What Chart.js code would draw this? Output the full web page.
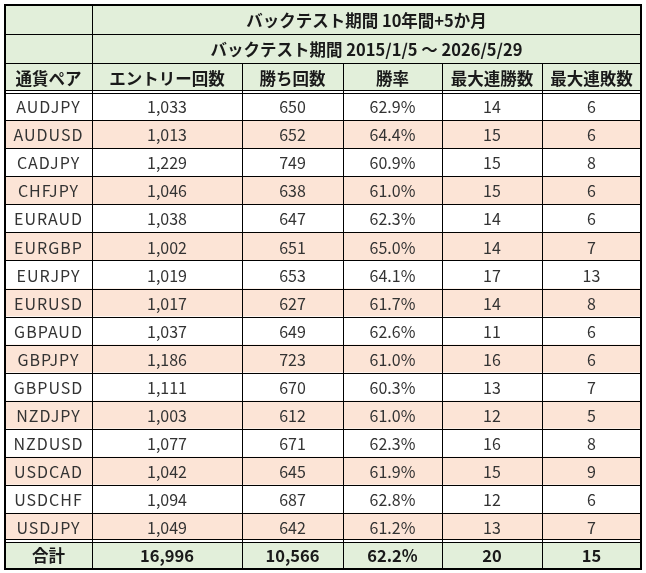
<!DOCTYPE html>
<html>
<head>
<meta charset="utf-8">
<script src="https://cdn.jsdelivr.net/npm/chart.js@4/dist/chart.umd.min.js"></script>
<style>
  body { margin: 0; background: #fff; }
  #wrap { width: 646px; height: 573px; }
</style>
</head>
<body>
<div id="wrap"><canvas id="tableChart" width="646" height="573"></canvas></div>
<script>
// table data
const titleLine1 = 'バックテスト期間 10年間+5か月';
const titleLine2 = 'バックテスト期間 2015/1/5 ～ 2026/5/29';
const headers = ['通貨ペア', 'エントリー回数', '勝ち回数', '勝率', '最大連勝数', '最大連敗数'];
const pairs = ['AUDJPY', 'AUDUSD', 'CADJPY', 'CHFJPY', 'EURAUD', 'EURGBP', 'EURJPY', 'EURUSD',
  'GBPAUD', 'GBPJPY', 'GBPUSD', 'NZDJPY', 'NZDUSD', 'USDCAD', 'USDCHF', 'USDJPY'];
const entries = [1033, 1013, 1229, 1046, 1038, 1002, 1019, 1017, 1037, 1186, 1111, 1003, 1077, 1042, 1094, 1049];
const wins = [650, 652, 749, 638, 647, 651, 653, 627, 649, 723, 670, 612, 671, 645, 687, 642];
const winRates = [62.9, 64.4, 60.9, 61.0, 62.3, 65.0, 64.1, 61.7, 62.6, 61.0, 60.3, 61.0, 62.3, 61.9, 62.8, 61.2];
const maxWinStreak = [14, 15, 15, 15, 14, 14, 17, 14, 11, 16, 13, 12, 16, 15, 12, 13];
const maxLossStreak = [6, 6, 8, 6, 6, 7, 13, 8, 6, 6, 7, 5, 8, 9, 6, 7];
const totalLabel = '合計';
const totals = [16996, 10566, 62.2, 20, 15];

// layout (relative sizes of columns and rows)
const colWidths = [87, 150, 101, 99, 100, 99];
const rowHeights = [29, 29, 29].concat(pairs.map(() => 28)).concat([28]);

const GREEN = '#e2efda';
const PINK = '#fce4d6';
const JP = '"Noto Sans CJK JP", "Noto Sans", sans-serif';

const fmtInt = v => v.toLocaleString('en-US');
const fmtPct = v => v.toFixed(1) + '%';

function cum(arr) {
  const out = [0];
  arr.forEach(v => out.push(out[out.length - 1] + v));
  return out;
}
const colEdges = cum(colWidths);
const rowEdges = cum(rowHeights);

// build cell rows from the arrays
const bodyRows = pairs.map((p, i) => [p, fmtInt(entries[i]), fmtInt(wins[i]), fmtPct(winRates[i]),
  String(maxWinStreak[i]), String(maxLossStreak[i])]);
const totalRow = [totalLabel, fmtInt(totals[0]), fmtInt(totals[1]), fmtPct(totals[2]), String(totals[3]), String(totals[4])];

// one point per cell center, so the scales place everything
const cellPoints = [];
rowHeights.forEach((h, r) => {
  colWidths.forEach((w, c) => {
    cellPoints.push({ x: colEdges[c] + w / 2, y: rowEdges[r] + h / 2 });
  });
});

const tablePlugin = {
  id: 'tablePlugin',
  afterDraw(chart) {
    const ctx = chart.ctx;
    const xs = chart.scales.x, ys = chart.scales.y;
    const X = v => xs.getPixelForValue(v);
    const Y = v => ys.getPixelForValue(v);
    const nCols = colWidths.length, nRows = rowHeights.length;
    const left = X(0), right = X(colEdges[nCols]);
    const top = Y(0), bottom = Y(rowEdges[nRows]);

    ctx.save();
    // backgrounds
    for (let r = 0; r < nRows; r++) {
      let fill = '#ffffff';
      if (r < 3 || r === nRows - 1) fill = GREEN;
      else if ((r - 3) % 2 === 1) fill = PINK;
      ctx.fillStyle = fill;
      ctx.fillRect(left, Y(rowEdges[r]), right - left, Y(rowEdges[r + 1]) - Y(rowEdges[r]));
    }

    // grid lines
    ctx.strokeStyle = '#000';
    ctx.lineWidth = 1;
    const hLine = y => {
      ctx.beginPath();
      ctx.moveTo(left, Math.round(y) + 0.5);
      ctx.lineTo(right, Math.round(y) + 0.5);
      ctx.stroke();
    };
    const vLine = (x, y0, y1) => {
      ctx.beginPath();
      ctx.moveTo(Math.round(x) + 0.5, y0);
      ctx.lineTo(Math.round(x) + 0.5, y1);
      ctx.stroke();
    };
    for (let r = 1; r < nRows; r++) {
      const y = Y(rowEdges[r]);
      if (r === 3 || r === nRows - 1) {
        ctx.fillStyle = '#fff';
        ctx.fillRect(left, Math.round(y) - 1, right - left, 3);
        hLine(y - 2);
        hLine(y + 1);
      } else {
        hLine(y);
      }
    }
    vLine(X(colEdges[1]), top, bottom);
    for (let c = 2; c < nCols; c++) {
      vLine(X(colEdges[c]), Y(rowEdges[2]), bottom);
    }
    ctx.lineWidth = 2;
    ctx.strokeRect(left, top, right - left, bottom - top);

    // text
    ctx.textAlign = 'center';
    ctx.textBaseline = 'middle';
    const cx = c => X(colEdges[c] + colWidths[c] / 2);
    const cy = r => Y(rowEdges[r] + rowHeights[r] / 2) + 1;
    const mergedX = X((colEdges[1] + colEdges[nCols]) / 2);

    ctx.fillStyle = '#1a1a1a';
    ctx.font = 'bold 16.5px ' + JP;
    ctx.fillText(titleLine1, mergedX, cy(0));
    ctx.fillText(titleLine2, mergedX, cy(1));
    headers.forEach((h, c) => ctx.fillText(h, cx(c), cy(2)));

    ctx.fillStyle = '#333';
    ctx.font = '16px ' + JP;
    bodyRows.forEach((row, i) => {
      row.forEach((txt, c) => {
        ctx.letterSpacing = c === 0 ? '1px' : '0px';
        ctx.fillText(txt, cx(c), cy(i + 3));
      });
    });
    ctx.letterSpacing = '0px';

    ctx.fillStyle = '#1a1a1a';
    ctx.font = 'bold 16.5px ' + JP;
    totalRow.forEach((txt, c) => ctx.fillText(txt, cx(c), cy(nRows - 1)));
    ctx.restore();
  }
};

new Chart(document.getElementById('tableChart').getContext('2d'), {
  type: 'scatter',
  data: {
    datasets: [{
      data: cellPoints,
      pointRadius: 0,
      pointHoverRadius: 0
    }]
  },
  options: {
    responsive: false,
    animation: false,
    events: [],
    layout: { padding: { left: 5, top: 5, right: 5, bottom: 4 } },
    plugins: { legend: { display: false }, tooltip: { enabled: false } },
    scales: {
      x: { type: 'linear', display: false, min: 0, max: colEdges[colEdges.length - 1] },
      y: { type: 'linear', display: false, reverse: true, min: 0, max: rowEdges[rowEdges.length - 1] }
    }
  },
  plugins: [tablePlugin]
});
</script>
</body>
</html>
